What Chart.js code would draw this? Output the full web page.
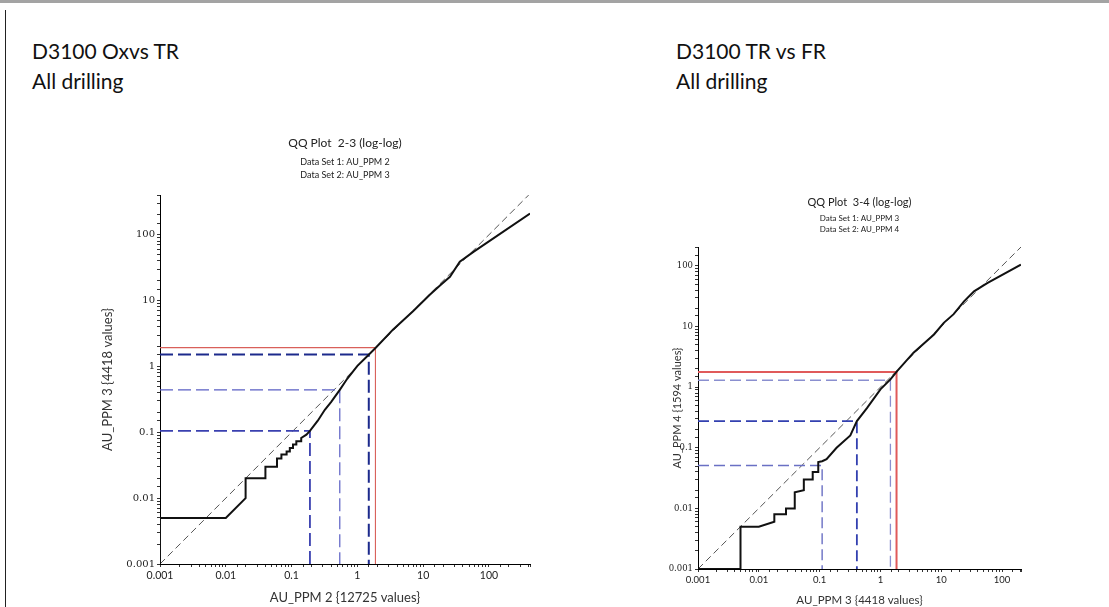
<!DOCTYPE html>
<html><head><meta charset="utf-8">
<script src="https://cdn.jsdelivr.net/npm/chart.js@4"></script>
<style>
html,body{margin:0;padding:0;background:#fff;}
body{width:1109px;height:607px;position:relative;overflow:hidden;font-family:Lato,"Open Sans",sans-serif;}
.topline{position:absolute;left:0;top:0;width:1109px;height:3px;background:#a3a3a3;}
.leftline{position:absolute;left:5px;top:10px;width:1px;height:597px;background:#222;}
.head{position:absolute;font-size:21px;line-height:30px;color:#111;white-space:nowrap;}
canvas{position:absolute;}
</style></head><body>
<div class="topline"></div><div class="leftline"></div>
<div class="head" style="left:32px;top:36px">D3100 Oxvs TR<br>All drilling</div>
<div class="head" style="left:676px;top:36px">D3100 TR vs FR<br>All drilling</div>
<canvas id="c1" width="460" height="479" style="left:90px;top:128px"></canvas>
<canvas id="c2" width="380" height="417" style="left:660px;top:190px"></canvas>
<script>
// ---- tick labels ----
const decadeValues = [0.001, 0.01, 0.1, 1, 10, 100];
const decadeLabels = ['0.001', '0.01', '0.1', '1', '10', '100'];

// ---- left chart (2-3) ----
const leftQX = [0.001,0.001,0.01,0.02,0.02,0.04,0.04,0.06,0.06,0.07,0.07,0.084,0.084,0.094,0.094,0.105,0.105,0.118,0.118,0.14,0.14,0.168,0.19,0.25,0.32,0.4,0.54,0.7,1,1.5,1.9,3.5,7,12.6,18,25.5,36,58,420];
const leftQY = [0.001,0.005,0.005,0.01,0.02,0.02,0.03,0.03,0.04,0.04,0.046,0.046,0.051,0.051,0.058,0.058,0.065,0.065,0.073,0.073,0.082,0.092,0.105,0.15,0.22,0.29,0.44,0.65,1.02,1.52,1.92,3.65,6.9,12.3,17,23,39,55,210];
const leftCut = [1.88, 1.93];            // red cut [x, y]
const leftBlueX = [1.49, 0.54, 0.19];
const leftBlueY = [1.52, 0.44, 0.105];
const leftRange = [0.001, 420, 0.001, 400]; // xmin,xmax,ymin,ymax

// ---- right chart (3-4) ----
const rightQX = [0.001,0.005,0.005,0.01,0.018,0.018,0.028,0.028,0.039,0.039,0.055,0.055,0.077,0.077,0.095,0.095,0.11,0.13,0.19,0.32,0.41,0.6,1,1.46,1.88,3.5,7.6,11,16,23.7,34.6,57,204];
const rightQY = [0.001,0.001,0.005,0.005,0.006,0.008,0.008,0.01,0.01,0.0185,0.02,0.03,0.03,0.04,0.04,0.058,0.06,0.065,0.1,0.16,0.275,0.45,0.92,1.34,1.84,3.7,7.4,11.5,16,26,38,52,105];
const rightCut = [1.84, 1.77];
const rightBlueX = [1.46, 0.41, 0.11];
const rightBlueY = [1.3, 0.275, 0.051];
const rightRange = [0.001, 205, 0.001, 205];

function pts(xs, ys){ return xs.map((x,i)=>({x:x, y:ys[i]})); }
function lShape(x, y, min){ return [{x:min,y:y},{x:x,y:y},{x:x,y:min}]; }
function tickCb(v){
  const i = decadeValues.findIndex(d => Math.abs(Math.log10(v) - Math.log10(d)) < 1e-6);
  return i >= 0 ? decadeLabels[i] : '';
}
function line(data, color, width, dash){
  return {data:data, showLine:true, pointRadius:0, borderColor:color, borderWidth:width, borderDash:dash||[], fill:false, tension:0};
}

function makeChart(id, cfg){
  const [xmin,xmax,ymin,ymax] = cfg.range;
  const ds = [line(pts(cfg.qx, cfg.qy), '#111', 2)];
  cfg.blue.forEach(b => ds.push(line(lShape(b.x, b.y, xmin), b.color, b.width, b.dash)));
  ds.push(line(lShape(cfg.cut[0], cfg.cut[1], xmin), cfg.red, cfg.redW));
  ds.push(line([{x:xmin,y:ymin},{x:Math.min(xmax,ymax),y:Math.min(xmax,ymax)}], '#555', 1, [7,4]));
  return new Chart(document.getElementById(id), {
    type:'scatter',
    data:{datasets:ds},
    options:{
      responsive:false, animation:false, events:[],
      layout:{padding:{left:0,right:cfg.padRight,top:0,bottom:0}},
      plugins:{
        legend:{display:false}, tooltip:{enabled:false},
        title:{display:true, text:cfg.title, color:'#222', fullSize:false,
          font:{family:'Lato', size:cfg.titleSize, weight:'normal'}, padding:cfg.titlePad},
        subtitle:{display:true, text:cfg.sub, color:'#222', fullSize:false,
          font:{family:'Lato', size:cfg.subSize, lineHeight:cfg.subLH}, padding:cfg.subPad}
      },
      scales:{
        x:{type:'logarithmic', position:'bottom', min:xmin, max:xmax,
          border:{display:true,color:'#000',width:1},
          grid:{display:true, drawOnChartArea:false, drawTicks:true, tickLength:3, color:'#333'},
          ticks:{autoSkip:false, maxRotation:0, padding:2, color:'#222',
            font:{family:'Lato', size:cfg.xTickSize}, callback:tickCb},
          title:{display:true, text:cfg.xTitle, color:'#333',
            font:{family:'Lato', size:cfg.xTitleSize}, padding:{top:0,bottom:cfg.xTitlePadB}},
          afterFit:(s)=>{ s.height = cfg.xH; }
        },
        y:{type:'logarithmic', position:'left', min:ymin, max:ymax,
          border:{display:true,color:'#000',width:1},
          grid:{display:true, drawOnChartArea:false, drawTicks:true, tickLength:3, color:'#333'},
          ticks:{autoSkip:false, padding:2, color:'#222',
            font:{family:'DejaVu Serif', size:cfg.yTickSize}, callback:tickCb},
          title:{display:true, text:cfg.yTitle, color:'#333',
            font:{family:'Lato', size:cfg.yTitleSize}, padding:{top:cfg.yTitlePadT,bottom:0}},
          afterFit:(s)=>{ s.width = cfg.yW; }
        }
      }
    }
  });
}

makeChart('c1', {
  range:leftRange, qx:leftQX, qy:leftQY, cut:leftCut, red:'#d9605a', redW:1.1,
  blue:[
    {x:leftBlueX[0], y:leftBlueY[0], color:'#1c2a8c', width:2, dash:[13,5]},
    {x:leftBlueX[1], y:leftBlueY[1], color:'#5a5fc4', width:1.2, dash:[13,5]},
    {x:leftBlueX[2], y:leftBlueY[2], color:'#3a40b0', width:1.8, dash:[13,5]}
  ],
  title:'QQ Plot  2-3 (log-log)', titleSize:12, titlePad:{top:8,bottom:2},
  sub:['Data Set 1: AU_PPM 2','Data Set 2: AU_PPM 3'], subSize:9, subLH:1.45, subPad:{top:3,bottom:13.6},
  padRight:20, xH:43, yW:70,
  xTickSize:10.5, yTickSize:10,
  xTitle:'AU_PPM 2 {12725 values}', xTitleSize:13, xTitlePadB:1,
  yTitle:'AU_PPM 3 {4418 values}', yTitleSize:13, yTitlePadT:10
});

makeChart('c2', {
  range:rightRange, qx:rightQX, qy:rightQY, cut:rightCut, red:'#e05a5a', redW:2,
  blue:[
    {x:rightBlueX[0], y:rightBlueY[0], color:'#8a8fcf', width:1.3, dash:[11,5]},
    {x:rightBlueX[1], y:rightBlueY[1], color:'#3340b0', width:1.8, dash:[11,5]},
    {x:rightBlueX[2], y:rightBlueY[2], color:'#6a70c4', width:1.4, dash:[11,5]}
  ],
  title:'QQ Plot  3-4 (log-log)', titleSize:11, titlePad:{top:5.4,bottom:1},
  sub:['Data Set 1: AU_PPM 3','Data Set 2: AU_PPM 4'], subSize:8, subLH:1.375, subPad:{top:3.4,bottom:12},
  padRight:19, xH:38, yW:38,
  xTickSize:9.5, yTickSize:8.5,
  xTitle:'AU_PPM 3 {4418 values}', xTitleSize:11.5, xTitlePadB:0,
  yTitle:'AU_PPM 4 {1594 values}', yTitleSize:11, yTitlePadT:10.4
});
</script>
</body></html>
